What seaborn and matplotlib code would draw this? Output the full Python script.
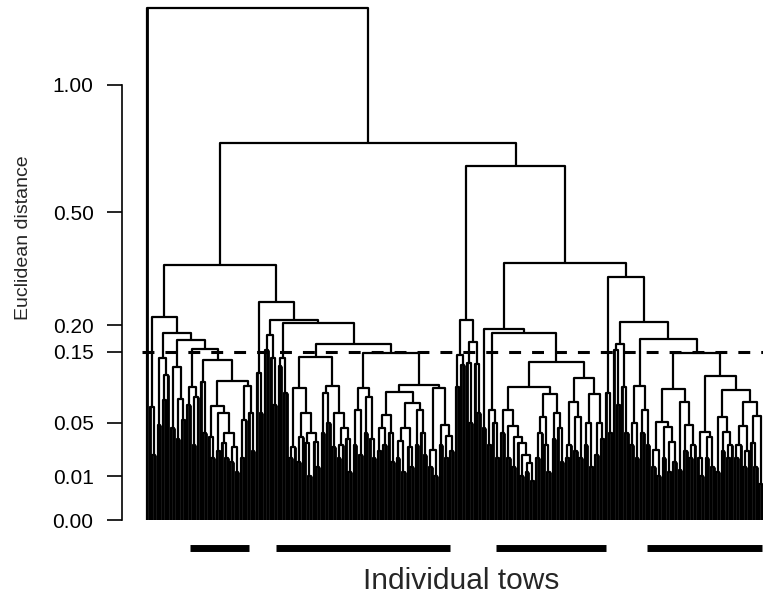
import numpy as np
import pandas as pd
import matplotlib
matplotlib.use("Agg")
import matplotlib.pyplot as plt
import seaborn as sns

# ---- data: merge heights (Euclidean distance) between neighbouring tows, in leaf order ----
root_height = 1.385                      # outlier tow joins everything else
join_heights = [0.344, 0.251, 0.211, 0.205, 0.751, 0.662, 0.349]

L1 = [0.067, 0.022, 0.218, 0.048, 0.139, 0.076, 0.111, 0.185, 0.045, 0.124, 0.035,
      0.077, 0.053, 0.171, 0.07, 0.094, 0.03, 0.08, 0.155, 0.10, 0.04, 0.135, 0.036,
      0.02, 0.069, 0.025, 0.06, 0.031, 0.02, 0.04, 0.018, 0.028, 0.012, 0.102, 0.02,
      0.053, 0.095, 0.06, 0.025]
L2 = [0.114, 0.06]
L2b = [0.153, 0.181, 0.139, 0.07]
L3a = [0.125, 0.139, 0.085]
L3b = [0.02, 0.028, 0.092, 0.018, 0.036, 0.06, 0.031, 0.01, 0.040, 0.032, 0.015,
       0.140,
       0.04, 0.085, 0.05, 0.095, 0.028, 0.06, 0.02, 0.03, 0.045, 0.035, 0.012,
       0.164,
       0.03, 0.064, 0.022, 0.092, 0.04, 0.080, 0.035, 0.02,
       0.147,
       0.025, 0.045, 0.03, 0.058, 0.04, 0.018,
       0.087,
       0.02, 0.033, 0.012, 0.045, 0.028, 0.015, 0.072, 0.03, 0.064, 0.04, 0.022,
       0.096,
       0.015, 0.026, 0.01, 0.092, 0.03, 0.048, 0.02, 0.037, 0.025]
R1 = [0.093, 0.144, 0.127, 0.211, 0.13, 0.05, 0.167, 0.128, 0.06]
R2 = [0.045, 0.193, 0.03, 0.064, 0.05, 0.02, 0.185,
      0.04, 0.064, 0.02, 0.047, 0.015, 0.036, 0.031, 0.01, 0.022, 0.012, 0.017, 0.008,
      0.093, 0.02, 0.04, 0.056, 0.03, 0.012, 0.084, 0.035, 0.06, 0.045, 0.018,
      0.132,
      0.02, 0.03, 0.074, 0.025, 0.056, 0.02, 0.107, 0.03, 0.05, 0.015, 0.084, 0.022,
      0.05, 0.035]
R3 = [0.085, 0.04, 0.312,
      0.153, 0.07, 0.164, 0.093, 0.04,
      0.207,
      0.03, 0.05, 0.02, 0.095, 0.04, 0.064, 0.03,
      0.173,
      0.015, 0.026, 0.01, 0.051, 0.02, 0.046, 0.012, 0.032, 0.018, 0.091, 0.013, 0.074,
      0.025, 0.048, 0.02, 0.03, 0.147, 0.02, 0.01, 0.041, 0.02, 0.036, 0.015, 0.110,
      0.012, 0.056, 0.025, 0.041, 0.02, 0.03, 0.089, 0.02, 0.03, 0.047, 0.015, 0.025,
      0.074, 0.031, 0.015, 0.057, 0.007]

cut_height = 0.15
tick_values = [0.0, 0.01, 0.05, 0.15, 0.20, 0.50, 1.00]
tick_labels = ["0.00", "0.01", "0.05", "0.15", "0.20", "0.50", "1.00"]
# tow groups marked below the tree (first and last leaf index)
group_start = [16, 48, 130, 186]
group_end = [38, 113, 171, 229]

# ---- build the tree from the neighbour merge heights ----
clusters = [L1, L2, L2b, L3a, L3b, R1, R2, R3]
gaps = [root_height] + clusters[0]
for h, c in zip(join_heights, clusters[1:]):
    gaps += [h] + c
gaps = np.array(gaps)
n = len(gaps) + 1

rows = []
stems = []   # leaf stems: (x, height of the node they join)
def build(lo, hi):
    if lo == hi:
        return float(lo), 0.0
    k = lo + int(np.argmax(gaps[lo:hi]))
    xl, hl = build(lo, k)
    xr, hr = build(k + 1, hi)
    h = gaps[k]
    for x, y in [(xl, hl), (xl, h), (xr, h), (xr, hr)]:
        rows.append({"x": x, "y": y, "node": k})
    if lo == k:
        stems.append((xl, h))
    if k + 1 == hi:
        stems.append((xr, h))
    return (xl + xr) / 2, h
build(0, n - 1)
df = pd.DataFrame(rows)
stems = pd.DataFrame(stems, columns=["x", "top"])

# ---- figure ----
sns.set_style("ticks")
plt.rcParams['font.family'] = ['Liberation Sans', 'DejaVu Sans']

W, H = 763, 604
fig = plt.figure(figsize=(W / 100, H / 100), dpi=100)
ax = fig.add_axes([122 / W, 84 / H, (W - 122) / W, 512 / H])

sns.lineplot(data=df, x="x", y="y", units="node", estimator=None, sort=False,
             color="black", lw=1.6, ax=ax, clip_on=False)
for ln in ax.lines:
    ln.set_solid_capstyle("butt")
# leaf stems drawn slightly heavier, as in the printed tree
ax.vlines(stems["x"], 0, stems["top"], color="black", lw=2.0)

s = 615 / (n - 1)  # pixels per leaf
ax.plot([-2, n - 1 + 0.5], [cut_height, cut_height], color="black", lw=2.2,
        dashes=(3.9, 3.6), clip_on=False)

trans = ax.get_xaxis_transform()
for a, b in zip(group_start, group_end):
    ax.plot([a, b], [-0.0547, -0.0547], color="black", lw=5, transform=trans,
            clip_on=False, solid_capstyle="butt")

ax.set_yscale("function", functions=(lambda v: np.sqrt(np.clip(v, 0, None)),
                                     lambda v: np.square(v)))
ax.set_ylim(0, root_height)
ax.set_xlim(-25 / s, n - 1 + 1 / s)
ax.set_yticks(tick_values)
ax.set_yticklabels(tick_labels)
ax.yaxis.set_minor_locator(matplotlib.ticker.NullLocator())
ax.set_xticks([])
ax.set_xlabel("")
ax.set_ylabel("")
ax.tick_params(axis="y", direction="out", length=10.5, width=1.2, labelsize=15,
               pad=10, color="black", labelcolor="black")
sns.despine(ax=ax, bottom=True)
ax.spines["left"].set_bounds(0, 1)
ax.spines["left"].set_linewidth(1.2)
ax.spines["left"].set_color("black")
ax.patch.set_alpha(0)

fig.text(24 / W, 1 - 238 / H, "Euclidean distance", rotation=90, ha="center",
         va="center", fontsize=14)
fig.text(461 / W, 1 - 581 / H, "Individual tows", ha="center", va="center",
         fontsize=21.5)

fig.savefig("out.png", dpi=100)
